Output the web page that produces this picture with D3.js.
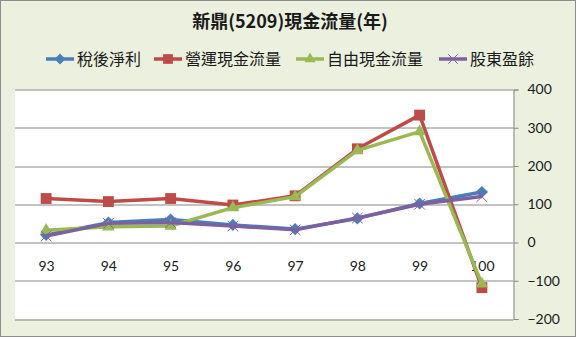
<!DOCTYPE html>
<html>
<head>
<meta charset="utf-8">
<script src="https://cdn.jsdelivr.net/npm/d3@7"></script>
<style>
  body { margin: 0; background: #fff; }
  svg text { font-family: "Noto Sans CJK TC", "Noto Sans", sans-serif; }
</style>
</head>
<body>
<div id="chart"></div>
<script>
// chart data
const years = ['93', '94', '95', '96', '97', '98', '99', '100'];
const netIncome = [20, 52, 60, 46, 35, 63, 102, 132];
const operatingCF = [115, 107, 115, 98, 122, 245, 333, -118];
const freeCF = [32, 41, 43, 91, 120, 241, 290, -108];
const ownerEarnings = [17, 50, 52, 43, 33, 64, 100, 120];
const yTicks = [-200, -100, 0, 100, 200, 300, 400];

const seriesNames = ['稅後淨利', '營運現金流量', '自由現金流量', '股東盈餘'];
const seriesValues = [netIncome, operatingCF, freeCF, ownerEarnings];
const colors = ['#4a7ebb', '#be4b48', '#98b954', '#7d60a0'];
const symbols = [d3.symbolDiamond2, d3.symbolSquare2, d3.symbolTriangle2, d3.symbolX];
const markSizes = [95, 150, 110, 75];

const W = 577, H = 338;
const margin = {top: 89.5, right: 64, bottom: 19, left: 15};
const width = W - margin.left - margin.right;
const height = H - margin.top - margin.bottom;

const svg = d3.select('#chart').append('svg')
    .attr('width', W)
    .attr('height', H);

svg.append('rect')
    .attr('x', 0.5).attr('y', 0.5)
    .attr('width', W - 2).attr('height', H - 2)
    .attr('fill', '#ecf1df')
    .attr('stroke', '#8c8c8c');

svg.append('text')
    .attr('x', 290).attr('y', 28)
    .attr('text-anchor', 'middle')
    .attr('font-size', '18px')
    .attr('font-weight', 'bold')
    .attr('fill', '#1a1a1a')
    .text('新鼎(5209)現金流量(年)');

// legend
const legendX = [46, 154, 296, 439];
const legend = svg.append('g');
seriesNames.forEach((name, i) => {
  const g = legend.append('g').attr('transform', 'translate(' + legendX[i] + ',59)');
  g.append('line')
      .attr('x1', 0).attr('x2', 28)
      .attr('stroke', colors[i]).attr('stroke-width', 3.5);
  g.append('path')
      .attr('transform', 'translate(14,0)')
      .attr('d', d3.symbol().type(symbols[i]).size(markSizes[i] * 0.8)())
      .attr('fill', i == 3 ? 'none' : colors[i])
      .attr('stroke', colors[i])
      .attr('stroke-width', i == 3 ? 1 : 0);
  g.append('text')
      .attr('x', 31).attr('y', 6)
      .attr('font-size', '16px')
      .attr('fill', '#1a1a1a')
      .text(name);
});

const plot = svg.append('g')
    .attr('transform', 'translate(' + margin.left + ',' + margin.top + ')');

plot.append('rect')
    .attr('width', width).attr('height', height)
    .attr('fill', '#fff');

const x = d3.scalePoint().domain(years).range([0, width]).padding(0.5);
const y = d3.scaleLinear().domain([-200, 400]).range([height, 0]);

// gridlines
plot.append('g')
    .selectAll('line')
    .data(yTicks)
    .enter()
    .append('line')
    .attr('x1', 0).attr('x2', width)
    .attr('y1', d => Math.round(y(d)) + 0.5)
    .attr('y2', d => Math.round(y(d)) + 0.5)
    .attr('stroke', '#868686');

// right axis
const yAxis = d3.axisRight(y).tickValues(yTicks).tickSize(5).tickPadding(9);
plot.append('g')
    .attr('transform', 'translate(' + (width + 0.5) + ',0)')
    .call(yAxis)
    .call(g => g.select('.domain').attr('stroke', '#868686'))
    .call(g => g.selectAll('.tick line').attr('stroke', '#868686'))
    .call(g => g.selectAll('.tick text')
        .attr('font-size', '14px').attr('fill', '#1a1a1a')
        .style('font-family', 'Lato, "Noto Sans", sans-serif'));

// category labels (between 0 and -100)
const xAxis = d3.axisBottom(x).tickSize(0).tickPadding(0);
plot.append('g')
    .attr('transform', 'translate(0,' + (y(0) + 19) + ')')
    .call(xAxis)
    .call(g => g.select('.domain').remove())
    .call(g => g.selectAll('.tick text')
        .attr('font-size', '14px').attr('fill', '#1a1a1a')
        .style('font-family', 'Lato, "Noto Sans", sans-serif'));

const line = d3.line()
    .x((d, i) => x(years[i]))
    .y(d => y(d));

seriesValues.forEach((vals, i) => {
  const g = plot.append('g');
  g.append('path')
      .datum(vals)
      .attr('fill', 'none')
      .attr('stroke', colors[i])
      .attr('stroke-width', 3.5)
      .attr('stroke-linejoin', 'round')
      .attr('d', line);
  g.selectAll('path.mark')
      .data(vals)
      .enter()
      .append('path')
      .attr('class', 'mark')
      .attr('transform', (d, j) => 'translate(' + x(years[j]) + ',' + y(d) + ')')
      .attr('d', d3.symbol().type(symbols[i]).size(markSizes[i])())
      .attr('fill', i == 3 ? 'none' : colors[i])
      .attr('stroke', colors[i])
      .attr('stroke-width', i == 3 ? 1 : 0);
});
</script>
</body>
</html>
